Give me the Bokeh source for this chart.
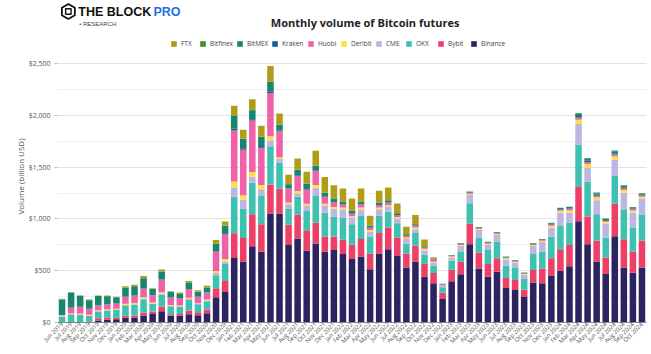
from math import pi
from bokeh.plotting import figure
from bokeh.layouts import column
from bokeh.models import FixedTicker, NumeralTickFormatter, Legend, LegendItem, Label, Range1d
from bokeh.embed import file_html
from bokeh.resources import INLINE

months = ["Jun 2019", "Jul 2019", "Aug 2019", "Sep 2019", "Oct 2019", "Nov 2019", "Dec 2019",
          "Jan 2020", "Feb 2020", "Mar 2020", "Apr 2020", "May 2020", "Jun 2020", "Jul 2020",
          "Aug 2020", "Sep 2020", "Oct 2020", "Nov 2020", "Dec 2020",
          "Jan 2021", "Feb 2021", "Mar 2021", "Apr 2021", "May 2021", "Jun 2021", "Jul 2021",
          "Aug 2021", "Sep 2021", "Oct 2021", "Nov 2021", "Dec 2021",
          "Jan 2022", "Feb 2022", "Mar 2022", "Apr 2022", "May 2022", "Jun 2022", "Jul 2022",
          "Aug 2022", "Sep 2022", "Oct 2022", "Nov 2022", "Dec 2022",
          "Jan 2023", "Feb 2023", "Mar 2023", "Apr 2023", "May 2023", "Jun 2023", "Jul 2023",
          "Aug 2023", "Sep 2023", "Oct 2023", "Nov 2023", "Dec 2023",
          "Jan 2024", "Feb 2024", "Mar 2024", "Apr 2024", "May 2024", "Jun 2024", "Jul 2024",
          "Aug 2024", "Sep 2024", "Oct 2024"]

binance = [0, 0, 0, 3, 20, 26, 32, 45, 48, 67, 83, 109, 64, 64, 80, 70, 90, 244, 295,
           622, 587, 737, 683, 1051, 1051, 747, 811, 692, 763, 683, 699,
           660, 612, 638, 513, 667, 708, 641, 532, 587, 442, 378, 228,
           397, 465, 756, 522, 442, 490, 333, 314, 247, 385, 378, 449,
           500, 542, 978, 756, 590, 468, 833, 532, 481, 532]
bybit = [2, 2, 2, 5, 20, 22, 13, 19, 19, 26, 22, 45, 16, 19, 35, 29, 35, 87, 106,
         240, 228, 308, 266, 282, 240, 196, 228, 199, 202, 147, 131,
         138, 141, 167, 154, 196, 208, 179, 135, 154, 122, 99, 60,
         112, 122, 199, 151, 122, 131, 96, 96, 70, 122, 144, 170,
         208, 205, 330, 266, 199, 160, 314, 272, 205, 256]
okx = [55, 75, 72, 55, 67, 65, 75, 99, 103, 131, 74, 115, 77, 70, 103, 77, 80, 125, 163,
       353, 285, 304, 279, 369, 250, 157, 176, 186, 256, 231, 192,
       215, 196, 224, 163, 167, 154, 138, 96, 122, 90, 70, 52,
       87, 99, 196, 147, 135, 160, 119, 115, 103, 154, 160, 212,
       224, 218, 410, 337, 256, 192, 272, 288, 231, 250]
cme = [3, 3, 3, 3, 5, 5, 5, 7, 6, 7, 5, 10, 5, 5, 10, 5, 8, 22, 22,
       87, 87, 58, 58, 54, 38, 42, 29, 48, 80, 70, 77,
       80, 64, 61, 48, 64, 45, 45, 42, 38, 42, 32, 12,
       32, 54, 80, 74, 51, 64, 61, 51, 42, 77, 96, 87,
       128, 96, 199, 135, 135, 135, 154, 160, 144, 157]
deribit = [10, 8, 8, 8, 8, 8, 8, 12, 12, 12, 8, 12, 8, 6, 12, 6, 10, 19, 26,
           58, 42, 45, 42, 42, 16, 16, 26, 22, 26, 16, 16,
           16, 13, 19, 16, 16, 16, 16, 16, 16, 16, 8, 6,
           8, 8, 12, 10, 10, 10, 10, 10, 7, 10, 10, 16,
           18, 22, 40, 35, 28, 18, 32, 28, 20, 20]
huobi = [3, 55, 68, 58, 45, 48, 48, 67, 70, 83, 70, 122, 72, 70, 80, 61, 67, 186, 240,
         494, 439, 497, 359, 417, 250, 135, 144, 135, 135, 64, 45,
         29, 22, 29, 19, 22, 26, 16, 13, 16, 10, 19, 8,
         6, 8, 8, 6, 8, 6, 6, 6, 5, 8, 6, 12,
         12, 14, 22, 20, 16, 10, 18, 16, 12, 12]
kraken = [0, 0, 0, 0, 2, 2, 2, 3, 2, 3, 2, 2, 2, 2, 2, 2, 2, 3, 3,
          16, 13, 13, 16, 16, 5, 3, 3, 3, 3, 3, 3,
          3, 3, 3, 3, 3, 3, 3, 3, 3, 3, 3, 2,
          3, 3, 4, 3, 4, 3, 3, 3, 2, 3, 3, 6,
          6, 7, 14, 12, 9, 6, 11, 9, 7, 7]
bitmex = [150, 145, 105, 83, 88, 78, 60, 83, 90, 99, 61, 77, 51, 45, 64, 48, 45, 72, 80,
          128, 93, 87, 87, 90, 58, 38, 58, 54, 48, 38, 35,
          26, 26, 22, 16, 22, 19, 16, 16, 13, 10, 6, 5,
          5, 6, 8, 6, 6, 6, 6, 6, 4, 7, 6, 10,
          10, 12, 22, 20, 15, 10, 18, 15, 12, 12]
bitfinex = [1, 1, 1, 1, 1, 1, 1, 1, 1, 1, 1, 1, 1, 1, 1, 1, 1, 1, 1,
            3, 3, 3, 3, 3, 3, 2, 2, 2, 2, 2, 2,
            2, 2, 2, 2, 2, 2, 2, 2, 2, 2, 2, 2,
            2, 2, 2, 2, 2, 2, 2, 2, 2, 2, 2, 2,
            2, 2, 8, 7, 6, 4, 8, 6, 3, 3]
ftx = [5, 5, 5, 5, 5, 5, 5, 13, 13, 19, 5, 19, 6, 8, 13, 13, 16, 38, 38,
       90, 83, 103, 106, 151, 106, 90, 106, 115, 144, 151, 125,
       125, 119, 128, 96, 112, 122, 93, 70, 87, 64, 13, 0,
       0, 0, 0, 0, 0, 0, 0, 0, 0, 0, 0, 0,
       0, 0, 0, 0, 0, 0, 0, 0, 0, 0]

series_names = ["Binance", "Bybit", "OKX", "CME", "Deribit", "Huobi", "Kraken", "BitMEX", "Bitfinex", "FTX"]
series_values = [binance, bybit, okx, cme, deribit, huobi, kraken, bitmex, bitfinex, ftx]
series_colors = ["#2b2461", "#ee3f66", "#3ec1b1", "#bdb5e4", "#fde046", "#ef62a8",
                 "#1a5d96", "#17866f", "#3f8f2a", "#b09c17"]

y_major = [0, 500, 1000, 1500, 2000, 2500]
y_minor = [250, 750, 1250, 1750, 2250]

data = {"month": months}
for n, v in zip(series_names, series_values):
    data[n] = v

FONT = "Open Sans"
W, H = 651, 354
HEAD = 30                          # header strip height (logo + title)
FL, FR = 57, 646
FB = 322 - HEAD                    # frame bottom within main figure
Y_TOP_PX = 63 - HEAD               # $2,500 gridline row within main figure
YMAX = 2500
YTOP = YMAX + Y_TOP_PX * YMAX / (FB - Y_TOP_PX)

# ---------- header: logo + title ----------
hd = figure(width=W, height=HEAD, x_range=Range1d(0, W), y_range=Range1d(HEAD, 0),
            output_backend="svg", toolbar_location=None,
            min_border_left=0, min_border_right=0, min_border_top=0, min_border_bottom=0)
hd.axis.visible = False
hd.grid.visible = False
hd.outline_line_color = None
hd.background_fill_color = "white"
hd.border_fill_color = "white"

# logo mark (decorative)
hd.scatter(x=[12], y=[11], marker="hex", size=15, angle=pi / 2, fill_color=None,
           line_color="#111111", line_width=1.8)
hd.scatter(x=[12], y=[11], marker="square", size=5.5, fill_color=None,
           line_color="#111111", line_width=1.4)

def hlab(X, Y, text, font=FONT, **kw):
    hd.add_layout(Label(x=X, y=Y, text=text, text_font=font, **kw))

hlab(23, 11.5, "THE BLOCK", font="Liberation Sans", text_font_size="12.5px", text_font_style="bold",
     text_align="left", text_baseline="middle", text_color="#111111")
hlab(106, 11.5, "PRO", font="Liberation Sans", text_font_size="12.5px", text_font_style="bold",
     text_align="left", text_baseline="middle", text_color="#1f6fe0")
hlab(24, 23.5, "\u2022 RESEARCH", font="Liberation Sans", text_font_size="6px",
     text_align="left", text_baseline="middle", text_color="#444444")
hlab(340, 22, "Monthly volume of Bitcoin futures", text_font_size="11px",
     text_font_style="bold", text_align="center", text_baseline="middle", text_color="#222222")

# ---------- main chart ----------
p = figure(x_range=months, y_range=(0, YTOP), width=W, height=H - HEAD,
           output_backend="svg", toolbar_location=None,
           min_border_left=FL, min_border_right=W - FR, min_border_top=0,
           min_border_bottom=H - HEAD - FB)
p.outline_line_color = None
p.background_fill_color = "white"
p.border_fill_color = "white"

renderers = p.vbar_stack(series_names, x="month", width=0.72, source=data,
                         color=series_colors, line_color=None)

p.yaxis.ticker = FixedTicker(ticks=y_major, minor_ticks=y_minor)
p.yaxis.formatter = NumeralTickFormatter(format="$0,0")
p.yaxis.axis_line_color = None
p.yaxis.major_tick_line_color = "#bbbbbb"
p.yaxis.major_tick_in = 0
p.yaxis.major_tick_out = 3
p.yaxis.minor_tick_line_color = None
p.yaxis.major_label_text_font = FONT
p.yaxis.major_label_text_font_size = "7px"
p.yaxis.major_label_text_color = "#555555"
p.yaxis.major_label_standoff = 3
p.yaxis.axis_label = "Volume (billion USD)"
p.yaxis.axis_label_text_font = FONT
p.yaxis.axis_label_text_font_size = "8px"
p.yaxis.axis_label_text_font_style = "normal"
p.yaxis.axis_label_text_color = "#555555"
p.yaxis.axis_label_standoff = 0

p.ygrid.grid_line_color = "#e3e3e3"
p.ygrid.minor_grid_line_color = "#eeeeee"
p.xgrid.grid_line_color = None

p.xaxis.axis_line_color = "#888888"
p.xaxis.major_tick_line_color = None
p.xaxis.minor_tick_line_color = None
p.xaxis.major_tick_out = 0
p.xaxis.major_tick_in = 0
p.xaxis.major_label_orientation = pi / 4
p.xaxis.major_label_text_font = FONT
p.xaxis.major_label_text_font_size = "6px"
p.xaxis.major_label_text_color = "#555555"
p.xaxis.major_label_standoff = 1
p.x_range.range_padding = 0.0

# legend: one entry per exchange, laid out left to right in the reference's order
legend_order = series_names[::-1]
legend_left_px = [170, 199, 236, 271, 307, 340, 375, 405, 437, 470]
rmap = dict(zip(series_names, renderers))
for name, lx in zip(legend_order, legend_left_px):
    lg = Legend(items=[LegendItem(label=name, renderers=[rmap[name]])],
                location=(lx - FL, FB - (48 - HEAD)),
                glyph_width=7, glyph_height=7, label_standoff=4, spacing=0,
                padding=0, margin=0, border_line_color=None, background_fill_alpha=0,
                label_text_font=FONT, label_text_font_size="6.5px", label_text_color="#444444",
                label_height=8, label_width=1)
    p.add_layout(lg, "center")

layout = column(hd, p, spacing=0)
open("out.html", "w").write(file_html(layout, INLINE))
